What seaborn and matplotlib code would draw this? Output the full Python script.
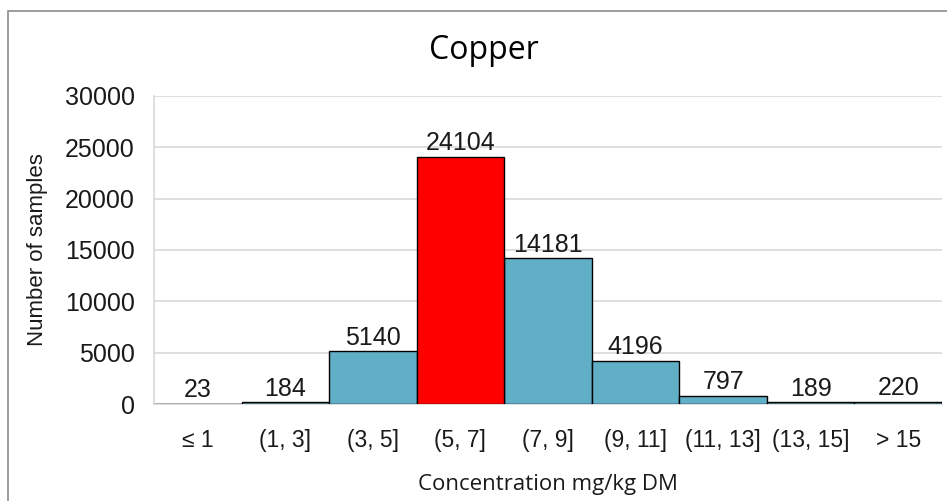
import matplotlib
matplotlib.use("Agg")
import matplotlib.pyplot as plt
import seaborn as sns
import pandas as pd
from matplotlib.patches import Rectangle

# Copper concentration classes and sample counts
categories = ["≤ 1", "(1, 3]", "(3, 5]", "(5, 7]", "(7, 9]", "(9, 11]",
              "(11, 13]", "(13, 15]", "> 15"]
counts = [23, 184, 5140, 24104, 14181, 4196, 797, 189, 220]
highlight = [False, False, False, True, False, False, False, False, False]
y_ticks = [0, 5000, 10000, 15000, 20000, 25000, 30000]

sns.set_theme(style="white")
plt.rcParams["font.family"] = ["Liberation Sans", "DejaVu Sans"]

df = pd.DataFrame({"cls": categories, "n": counts,
                   "group": ["mode" if h else "other" for h in highlight]})

fig = plt.figure(figsize=(9.47, 5.01), dpi=100)
ax = fig.add_axes([0.1626, 0.1936, 0.8321, 0.6148])

sns.barplot(data=df, x="cls", y="n", hue="group",
            palette={"mode": "#FF0000", "other": "#60AFC6"}, saturation=1,
            width=1.0, edgecolor="black", linewidth=1.0,
            dodge=False, legend=False, ax=ax, zorder=3)

ax.set_ylim(0, 30000)
ax.set_xlim(-0.5, len(categories) - 0.5)
ax.set_yticks(y_ticks)
ax.set_yticklabels([str(t) for t in y_ticks], fontsize=18, color="#1a1a1a")
ax.tick_params(axis="x", labelsize=16.5, colors="#1a1a1a", pad=18, length=0)
ax.tick_params(axis="y", pad=14, length=0)
ax.grid(axis="y", color="#d9d9d9", linewidth=1.2, zorder=0)
ax.set_axisbelow(True)

for side in ["top", "right"]:
    ax.spines[side].set_visible(False)
ax.spines["left"].set_color("#d9d9d9")
ax.spines["left"].set_linewidth(1.2)
ax.spines["bottom"].set_color("#d9d9d9")
ax.spines["bottom"].set_linewidth(1.2)

# value labels above each bar
for i, v in enumerate(counts):
    ax.text(i, v + 150, str(v), ha="center", va="bottom",
            fontsize=18, color="#1a1a1a", zorder=4)

ax.set_xlabel("Concentration mg/kg DM", fontsize=16, family=["Open Sans", "DejaVu Sans"],
              labelpad=16, color="#1a1a1a")
ax.set_ylabel("Number of samples", fontsize=16, labelpad=12, color="#1a1a1a")

fig.text(0.511, 0.9, "Copper", ha="center", va="center", fontsize=23,
         family=["Open Sans", "DejaVu Sans"], color="black")

# thin frame around the chart area
fig.patches.append(Rectangle((8 / 947, -0.05), 1.0, 1 - 11 / 501 + 0.05,
                             transform=fig.transFigure, fill=False,
                             edgecolor="#8c8c8c", linewidth=1.2, zorder=-1))

fig.savefig("out.png", dpi=100)
